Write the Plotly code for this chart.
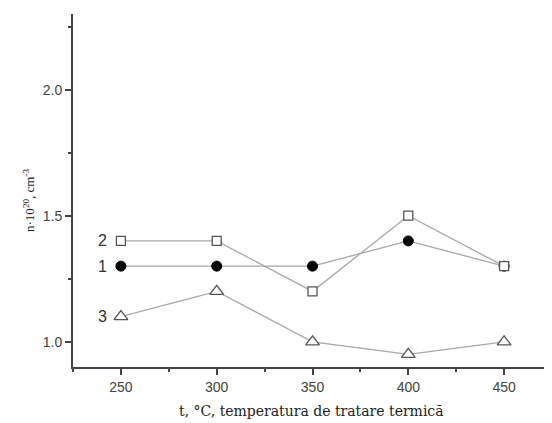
import plotly.graph_objects as go

temps = [250, 300, 350, 400, 450]
series1 = [1.3, 1.3, 1.3, 1.4, 1.3]
series2 = [1.4, 1.4, 1.2, 1.5, 1.3]
series3 = [1.1, 1.2, 1.0, 0.95, 1.0]
x_ticks = [250, 300, 350, 400, 450]
y_ticks = [1.0, 1.5, 2.0]
curve_labels = ["1", "2", "3"]

line_col = "#a8a8a8"
fig = go.Figure()
fig.add_trace(go.Scatter(x=temps, y=series1, mode="lines+markers",
                         line=dict(color=line_col, width=1.3),
                         marker=dict(symbol="circle", size=10, color="black",
                                     line=dict(color="black", width=1))))
fig.add_trace(go.Scatter(x=temps, y=series2, mode="lines+markers",
                         line=dict(color=line_col, width=1.3),
                         marker=dict(symbol="square", size=9, color="white",
                                     line=dict(color="#555", width=1.3))))
fig.add_trace(go.Scatter(x=temps, y=series3, mode="lines+markers",
                         line=dict(color=line_col, width=1.3),
                         marker=dict(symbol="triangle-up", size=12, color="white",
                                     line=dict(color="#555", width=1.3))))

for lab, ser in zip(curve_labels, [series1, series2, series3]):
    fig.add_annotation(x=temps[0], y=ser[0], text=lab, showarrow=False,
                       xanchor="right", xshift=-12,
                       font=dict(family="Liberation Sans, Arial", size=16, color="#333"))

fig.add_annotation(xref="paper", yref="paper", x=-0.092, y=0.473,
                   xanchor="center", yanchor="middle",
                   text="n·10<sup>20</sup>, cm<sup>-3</sup>", textangle=-90,
                   showarrow=False,
                   font=dict(family="Liberation Serif", size=13, color="#222"))
fig.add_annotation(xref="paper", yref="paper", x=0.497, y=-0.125,
                   text="t, °C, temperatura de tratare termică", showarrow=False,
                   xanchor="center", yanchor="middle",
                   font=dict(family="DejaVu Serif", size=14, color="#222"))

axis_common = dict(showline=True, linecolor="#444", linewidth=2, showgrid=False,
                   zeroline=False, ticks="outside", ticklen=6, tickwidth=1.5,
                   tickcolor="#444",
                   tickfont=dict(family="Liberation Sans, Arial", size=14, color="#444"))
fig.update_xaxes(range=[225, 475], tickvals=x_ticks,
                 minor=dict(dtick=25, tick0=225, ticks="outside", ticklen=3,
                            tickcolor="#444", tickwidth=1.5),
                 **axis_common)
fig.update_yaxes(range=[0.9, 2.3], tickvals=y_ticks, tickformat=".1f",
                 minor=dict(dtick=0.25, tick0=1.0, ticks="outside", ticklen=3,
                            tickcolor="#444", tickwidth=1.5),
                 **axis_common)

fig.update_layout(width=544, height=415, showlegend=False,
                  plot_bgcolor="white", paper_bgcolor="white",
                  margin=dict(l=65, r=0, t=6, b=56))
fig.write_html("out.html")
